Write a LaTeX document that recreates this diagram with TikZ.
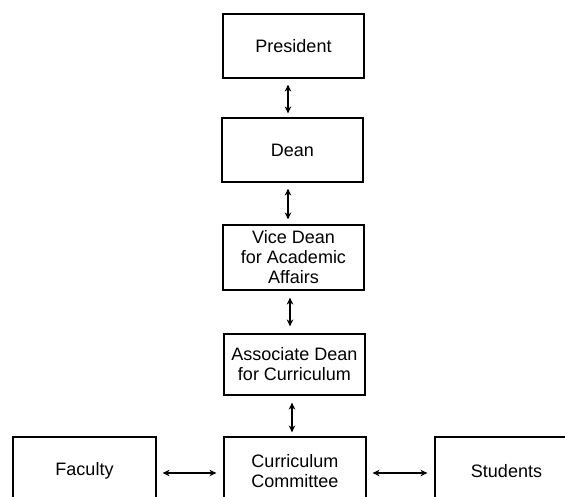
\documentclass[tikz,border=0pt]{standalone}
\usepackage{fontspec}
\setmainfont{Liberation Sans}
\usetikzlibrary{arrows.meta}
\begin{document}
\begin{tikzpicture}[x=1pt,y=1pt,
  box/.style={draw=black, line width=1.2pt, minimum width=141pt, inner sep=0pt,
    align=center, font=\fontsize{18}{20}\selectfont},
  link/.style={line width=1.6pt, {Stealth[length=7pt,width=6.5pt]}-{Stealth[length=7pt,width=6.5pt]}}]
\useasboundingbox (0,0) rectangle (565,-496);
\clip (0,0) rectangle (565,-496);
\fill[white] (0,0) rectangle (565,-496);

% chain of offices
\node[box, minimum height=64pt] (pres) at (293.5,-46) {President};
\node[box, minimum height=64pt] (dean) at (292.5,-150) {Dean};
\node[box, minimum height=65pt] (vice) at (293.5,-257.5) {Vice Dean\\for Academic\\Affairs};
\node[box, minimum height=61pt] (assoc) at (294.5,-364.5) {Associate Dean\\for Curriculum};

% bottom row
\node[box, minimum width=142pt, minimum height=68pt] (cc) at (295,-471) {Curriculum\\Committee};
\node[box, minimum width=143pt, minimum height=68pt] (fac) at (84.5,-471) {Faculty};
\node[box, minimum width=143pt, minimum height=68pt] (stu) at (506.5,-471) {Students};

% two-way links
\draw[link] ([xshift=-5.5pt,yshift=-6pt]pres.south) -- ([xshift=-4.5pt,yshift=4pt]dean.north);
\draw[link] ([xshift=-4.5pt,yshift=-6pt]dean.south) -- ([xshift=-5.5pt,yshift=5pt]vice.north);
\draw[link] ([xshift=-3.5pt,yshift=-7pt]vice.south) -- ([xshift=-4.5pt,yshift=7pt]assoc.north);
\draw[link] ([xshift=-2.5pt,yshift=-7pt]assoc.south) -- ([xshift=-3pt,yshift=4pt]cc.north);
\draw[link] ([xshift=6pt,yshift=-2pt]fac.east) -- ([xshift=-7pt,yshift=-2pt]cc.west);
\draw[link] ([xshift=6pt,yshift=-2pt]cc.east) -- ([xshift=-7pt,yshift=-2pt]stu.west);
\end{tikzpicture}
\end{document}
